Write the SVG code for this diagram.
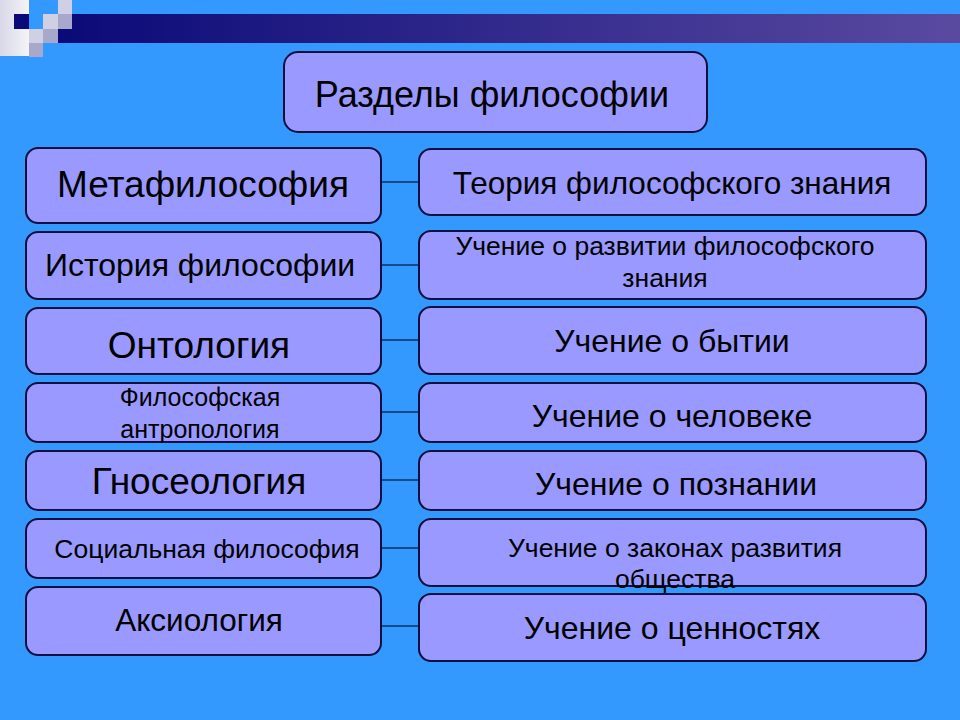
<svg xmlns="http://www.w3.org/2000/svg" width="960" height="720" viewBox="0 0 960 720">
<defs>
<linearGradient id="bar" x1="0" x2="1" y1="0" y2="0"><stop offset="0" stop-color="#0a0a78"/><stop offset="1" stop-color="#5a4aa0"/></linearGradient>
<linearGradient id="sq" x1="0" x2="1"><stop offset="0" stop-color="#d8d8e8"/><stop offset="1" stop-color="#f4f4f8"/></linearGradient>
<style>
.b{fill:#9999ff;stroke:#101040;stroke-width:2}
.t{font-family:"Liberation Sans",Arial,sans-serif;fill:#000;text-anchor:middle}
.c{stroke:#103060;stroke-width:1.5}
</style>
</defs>
<rect width="960" height="720" fill="#3399ff"/>
<rect x="58" y="14" width="902" height="29" fill="url(#bar)"/>
<rect x="0" y="0" width="29" height="56" fill="url(#sq)"/>
<rect x="14" y="14" width="15" height="15" fill="#0a0a78"/>
<rect x="58" y="0" width="14" height="14" fill="#d0d0e4"/>
<rect x="43" y="14" width="15" height="15" fill="#d0d0e4"/>
<rect x="58" y="14" width="14" height="15" fill="#a8a8cc"/>
<rect x="29" y="29" width="14" height="14" fill="#d0d0e4"/>
<rect x="43" y="29" width="15" height="14" fill="#a8a8cc"/>
<rect x="29" y="43" width="14" height="14" fill="#a8a8cc"/>
<g id="connectors">
<line class="c" x1="381" y1="182" x2="419" y2="182"/>
<line class="c" x1="381" y1="265" x2="419" y2="265"/>
<line class="c" x1="381" y1="340" x2="419" y2="340"/>
<line class="c" x1="381" y1="412" x2="419" y2="412"/>
<line class="c" x1="381" y1="480" x2="419" y2="480"/>
<line class="c" x1="381" y1="548" x2="419" y2="548"/>
<line class="c" x1="381" y1="626" x2="419" y2="626"/>
</g>
<g id="title"><rect class="b" x="284" y="52" width="423" height="80" rx="14"/><text class="t" x="492" y="107" font-size="36">Разделы философии</text></g>
<g id="l1"><rect class="b" x="26" y="148" width="355" height="75" rx="12"/><text class="t" x="203" y="197" font-size="37">Метафилософия</text></g>
<g id="r1"><rect class="b" x="419" y="149" width="507" height="66" rx="12"/><text class="t" x="672" y="194" font-size="31.5">Теория философского знания</text></g>
<g id="l2"><rect class="b" x="26" y="232" width="355" height="67" rx="12"/><text class="t" x="200" y="276" font-size="32">История философии</text></g>
<g id="r2"><rect class="b" x="419" y="231" width="507" height="68" rx="12"/><text class="t" x="665" y="255" font-size="26.5">Учение о развитии философского</text><text class="t" x="665" y="287" font-size="26.5">знания</text></g>
<g id="l3"><rect class="b" x="26" y="308" width="355" height="66" rx="12"/><text class="t" x="199" y="358" font-size="37">Онтология</text></g>
<g id="r3"><rect class="b" x="419" y="307" width="507" height="67" rx="12"/><text class="t" x="672" y="352" font-size="32">Учение о бытии</text></g>
<g id="l4"><rect class="b" x="26" y="383" width="355" height="59" rx="12"/><text class="t" x="200" y="406" font-size="25">Философская</text><text class="t" x="200" y="438" font-size="25">антропология</text></g>
<g id="r4"><rect class="b" x="419" y="383" width="507" height="59" rx="12"/><text class="t" x="672" y="427" font-size="32">Учение о человеке</text></g>
<g id="l5"><rect class="b" x="26" y="451" width="355" height="59" rx="12"/><text class="t" x="199" y="494" font-size="37">Гносеология</text></g>
<g id="r5"><rect class="b" x="419" y="451" width="507" height="59" rx="12"/><text class="t" x="676" y="495" font-size="32">Учение о познании</text></g>
<g id="l6"><rect class="b" x="26" y="519" width="355" height="59" rx="12"/><text class="t" x="207" y="558" font-size="26.5">Социальная философия</text></g>
<g id="r6"><rect class="b" x="419" y="519" width="507" height="67" rx="12"/><text class="t" x="675" y="557" font-size="26.5">Учение о законах развития</text><text class="t" x="675" y="588" font-size="26.5">общества</text></g>
<g id="l7"><rect class="b" x="26" y="587" width="355" height="68" rx="12"/><text class="t" x="199" y="631" font-size="31.5">Аксиология</text></g>
<g id="r7"><rect class="b" x="419" y="594" width="507" height="67" rx="12"/><text class="t" x="672" y="639" font-size="32">Учение о ценностях</text></g>
</svg>
